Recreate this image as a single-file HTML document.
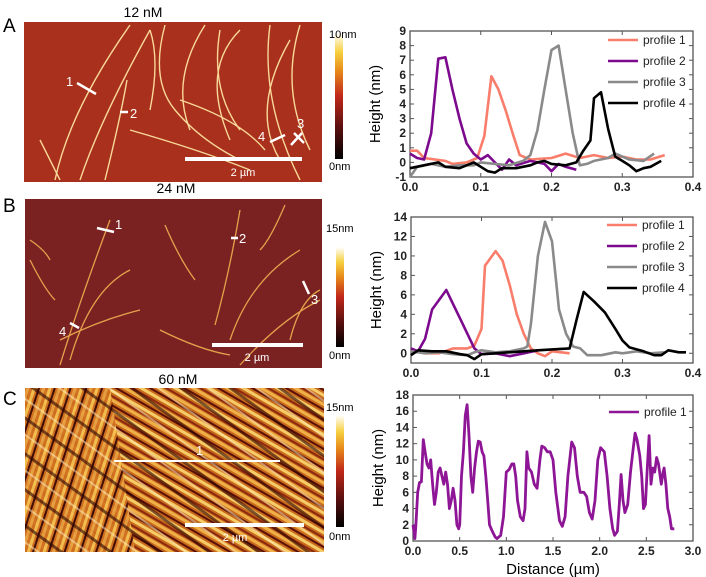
<!DOCTYPE html>
<html><head><meta charset="utf-8"><style>
html,body{margin:0;padding:0;background:#fff;}
svg{display:block;font-family:"Liberation Sans",sans-serif;}
</style></head><body>
<svg id="fig" width="706" height="577" viewBox="0 0 706 577" xmlns="http://www.w3.org/2000/svg">
<defs>
<linearGradient id="cbar" x1="0" y1="1" x2="0" y2="0">
<stop offset="0" stop-color="#000"/><stop offset="0.25" stop-color="#5a1010"/><stop offset="0.5" stop-color="#c0281a"/><stop offset="0.7" stop-color="#e88a1a"/><stop offset="0.85" stop-color="#f6d040"/><stop offset="1" stop-color="#fff"/>
</linearGradient>
<pattern id="streaks" width="17" height="17" patternUnits="userSpaceOnUse" patternTransform="rotate(30)">
<rect width="17" height="17" fill="#c86a1c"/>
<rect x="0" y="0" width="17" height="3" fill="#f0b048"/>
<rect x="0" y="5" width="17" height="2" fill="#5a1008"/>
<rect x="0" y="9" width="17" height="3" fill="#f6cc68"/>
<rect x="0" y="14" width="17" height="2" fill="#8a2810"/>
</pattern>
<pattern id="streaks3" width="29" height="29" patternUnits="userSpaceOnUse" patternTransform="rotate(36)">
<rect width="29" height="29" fill="none"/>
<rect x="0" y="3" width="29" height="3" fill="#2a0402" opacity="0.6"/>
<rect x="0" y="17" width="29" height="2" fill="#fff0c0" opacity="0.5"/>
</pattern>
<pattern id="streaks2" width="15" height="15" patternUnits="userSpaceOnUse" patternTransform="rotate(-72)">
<rect width="15" height="15" fill="#d07020"/>
<rect x="0" y="1" width="15" height="3" fill="#f4c050"/>
<rect x="0" y="6" width="15" height="2" fill="#3a0804"/>
<rect x="0" y="10" width="15" height="3" fill="#e8a040"/>
</pattern>
</defs>

<!-- Panel A image -->
<text x="143" y="17" font-size="14" text-anchor="middle">12 nM</text>
<text x="3" y="32" font-size="19">A</text>
<g>
<rect x="24" y="22" width="298" height="160" fill="#a8301c"/>
<g fill="none" stroke="#fde2a0" stroke-width="1.4" opacity="0.95">
<path d="M55 180 Q70 110 130 25"/><path d="M80 180 Q100 120 150 30"/><path d="M105 180 Q120 120 127 80"/>
<path d="M150 30 Q160 60 150 110"/><path d="M165 25 Q150 80 175 110 Q200 140 240 160"/>
<path d="M205 25 Q170 80 190 130"/><path d="M220 30 Q210 90 240 130"/><path d="M240 30 Q200 70 230 140"/>
<path d="M270 25 Q260 100 300 180"/><path d="M300 25 Q280 90 310 150"/><path d="M290 40 Q250 110 280 160"/>
<path d="M130 130 Q200 150 250 170"/><path d="M180 100 Q240 120 265 150"/><path d="M40 140 Q50 160 60 180"/>
</g>
</g>
<g stroke="#fff" stroke-width="2.5">
<line x1="77" y1="83" x2="96" y2="94"/><line x1="120" y1="112" x2="128" y2="112"/>
<line x1="270" y1="142" x2="285" y2="135"/><line x1="291" y1="145" x2="302" y2="133"/><line x1="294" y1="133" x2="304" y2="143"/>
</g>
<g font-size="13" fill="#fff">
<text x="66" y="86">1</text>
<text x="130" y="118">2</text>
<text x="297" y="128">3</text>
<text x="258" y="141">4</text>
</g>
<line x1="185" y1="159" x2="302" y2="159" stroke="#fff" stroke-width="4"/>
<text x="243" y="176" font-size="11" fill="#fff" text-anchor="middle">2 µm</text>
<rect x="335" y="33" width="8" height="126" fill="url(#cbar)"/>
<text x="329" y="38" font-size="11">10nm</text>
<text x="329" y="170" font-size="11">0nm</text>

<!-- Panel B image -->
<text x="176" y="193" font-size="14" text-anchor="middle">24 nM</text>
<text x="3" y="212" font-size="19">B</text>
<g>
<rect x="25" y="199" width="297" height="169" fill="#7a2222"/>
<g fill="none" stroke="#f0b050" stroke-width="1.3" opacity="0.9">
<path d="M60 365 Q80 300 110 220"/><path d="M70 360 Q90 290 130 270"/><path d="M60 340 Q100 320 140 310"/>
<path d="M165 225 Q180 260 195 280"/><path d="M215 325 Q230 270 240 210"/><path d="M230 340 Q250 280 300 250"/>
<path d="M240 365 Q280 320 320 300"/><path d="M290 340 Q300 300 320 290"/><path d="M30 260 Q45 290 55 300"/>
<path d="M160 330 Q200 350 230 355"/><path d="M285 205 Q270 240 260 250"/><path d="M30 240 Q45 250 50 260"/>
</g>
</g>
<g stroke="#fff" stroke-width="2.5">
<line x1="97" y1="228" x2="114" y2="232"/><line x1="231" y1="238" x2="238" y2="238"/>
<line x1="303" y1="281" x2="309" y2="294"/><line x1="70" y1="323" x2="79" y2="328"/>
</g>
<g font-size="13" fill="#fff">
<text x="115" y="229">1</text>
<text x="239" y="243">2</text>
<text x="311" y="304">3</text>
<text x="59" y="336">4</text>
</g>
<line x1="212" y1="345" x2="303" y2="345" stroke="#fff" stroke-width="4"/>
<text x="257" y="361" font-size="11" fill="#fff" text-anchor="middle">2 µm</text>
<rect x="336" y="247" width="8" height="100" fill="url(#cbar)"/>
<text x="326" y="232" font-size="11">15nm</text>
<text x="329" y="359" font-size="11">0nm</text>

<!-- Panel C image -->
<text x="178" y="384" font-size="14" text-anchor="middle">60 nM</text>
<text x="3" y="405" font-size="19">C</text>
<g>
<rect x="25" y="388" width="299" height="164" fill="url(#streaks)"/>
<path d="M25 388 L110 388 L135 552 L25 552 Z" fill="url(#streaks2)" opacity="0.95"/>
<rect x="25" y="388" width="299" height="164" fill="url(#streaks3)"/>
</g>
<line x1="114" y1="461" x2="280" y2="461" stroke="#fff" stroke-width="2"/>
<text x="196" y="455" font-size="13" fill="#fff">1</text>
<line x1="185" y1="525" x2="304" y2="525" stroke="#fff" stroke-width="4"/>
<text x="235" y="541" font-size="11" fill="#fff" text-anchor="middle">2 µm</text>
<rect x="336" y="415" width="8" height="112" fill="url(#cbar)"/>
<text x="326" y="411" font-size="11">15nm</text>
<text x="329" y="540" font-size="11">0nm</text>

<g id="charts"></g>
</svg>
<script>
// ---- Chart A data ----
const aP1x=[0,0.01,0.02,0.05,0.06,0.08,0.095,0.105,0.115,0.125,0.135,0.145,0.155,0.17,0.2,0.22,0.24,0.26,0.28,0.3,0.32,0.34,0.36];
const aP1y=[0.8,0.8,0.3,0.1,-0.1,0,0.3,1.8,5.9,5.0,3.6,2.0,0.5,0.2,0.3,0.6,0.3,0.5,0.3,0.4,0.2,0.2,0.5];
const aP2x=[0,0.01,0.02,0.03,0.04,0.05,0.06,0.07,0.08,0.09,0.1,0.11,0.12,0.13,0.14,0.15,0.17,0.19,0.2,0.21,0.22,0.235];
const aP2y=[0.6,0.3,0.2,2.0,7.1,7.2,5.0,3.0,1.3,0.6,0.2,0.5,0,-0.5,0.2,-0.2,0.1,-0.1,-0.6,-0.1,-0.3,-0.5];
const aP3x=[0,0.01,0.03,0.05,0.07,0.09,0.1,0.12,0.14,0.16,0.17,0.18,0.19,0.2,0.21,0.22,0.23,0.24,0.25,0.26,0.28,0.29,0.3,0.31,0.33,0.345];
const aP3y=[-1,-0.3,-0.1,-0.3,-0.2,-0.2,0,-0.1,-0.2,0.1,0.5,2.2,5.0,7.7,8.0,5.0,2.0,-0.2,-0.1,0.1,0.3,0.6,0.4,0.2,0.1,0.6];
const aP4x=[0,0.02,0.04,0.05,0.07,0.09,0.1,0.11,0.12,0.13,0.15,0.17,0.18,0.19,0.2,0.22,0.235,0.245,0.255,0.26,0.265,0.27,0.28,0.29,0.3,0.31,0.32,0.33,0.34,0.355];
const aP4y=[-0.4,-0.2,0,-0.3,-0.4,0,-0.3,-0.6,-0.7,-0.4,-0.4,-0.2,0,0.1,-0.1,-0.2,0,0.8,1.5,4.4,4.6,4.8,2.3,0.4,0.1,-0.2,-0.6,-0.4,-0.3,0.1];
const aXTicks=[0,0.1,0.2,0.3,0.4];
const aXTickLabels=["0.0","0.1","0.2","0.3","0.4"];
const aYTicks=[-1,0,1,2,3,4,5,6,7,8,9];
// ---- Chart B data ----
const bP1x=[0,0.02,0.04,0.06,0.08,0.09,0.1,0.105,0.12,0.13,0.14,0.15,0.16,0.17,0.18,0.19,0.2,0.225];
const bP1y=[0.3,0,0,0.5,0.5,0.8,2.5,9,10.5,9.5,7,4,2,0.5,0,-0.3,0.2,0];
const bP2x=[0,0.01,0.02,0.03,0.05,0.06,0.07,0.08,0.09,0.1,0.12,0.14,0.16,0.18];
const bP2y=[0.5,0.2,1.5,4.5,6.5,5,3.5,2,0.5,-0.1,0,-0.3,0,0.3];
const bP3x=[0,0.02,0.04,0.06,0.08,0.09,0.1,0.12,0.14,0.16,0.165,0.17,0.18,0.19,0.2,0.21,0.22,0.23,0.24,0.25,0.27,0.29,0.3,0.32,0.34,0.36];
const bP3y=[0.2,0,0.1,-0.1,-0.2,0.1,0.3,0.1,0.2,0.5,0.7,3,10,13.5,11.5,4.5,2,0.7,0.5,-0.2,-0.2,0.1,0,0.2,0,0.1];
const bP4x=[0,0.01,0.03,0.05,0.07,0.08,0.09,0.1,0.12,0.14,0.16,0.18,0.2,0.225,0.235,0.245,0.26,0.275,0.29,0.3,0.31,0.33,0.345,0.355,0.365,0.38,0.39];
const bP4y=[-0.2,0.3,0.2,0.2,-0.1,-0.2,-0.6,-0.1,0,0.1,0.2,0.3,0.4,0.5,3.5,6.3,5.3,4.2,2.5,1.3,0.6,0.2,-0.2,-0.2,0.3,0.1,0.1];
const bXTicks=[0,0.1,0.2,0.3,0.4];
const bXTickLabels=["0.0","0.1","0.2","0.3","0.4"];
const bYTicks=[0,2,4,6,8,10,12,14];
// ---- Chart C data ----
const cP1x=[0,0.02,0.03,0.05,0.07,0.09,0.11,0.13,0.15,0.17,0.19,0.21,0.23,0.25,0.27,0.29,0.31,0.33,0.35,0.37,0.39,0.41,0.43,0.45,0.47,0.49,0.5,0.52,0.54,0.56,0.58,0.6,0.62,0.64,0.66,0.68,0.7,0.72,0.74,0.76,0.78,0.8,0.82,0.85,0.88,0.9,0.92,0.94,0.97,1.0,1.03,1.06,1.08,1.1,1.12,1.15,1.18,1.2,1.22,1.24,1.27,1.3,1.33,1.36,1.38,1.41,1.44,1.47,1.5,1.53,1.57,1.6,1.63,1.66,1.7,1.73,1.76,1.79,1.83,1.86,1.89,1.92,1.95,1.98,2.01,2.05,2.08,2.11,2.14,2.16,2.19,2.21,2.23,2.25,2.27,2.3,2.33,2.36,2.38,2.4,2.43,2.45,2.47,2.49,2.51,2.53,2.55,2.57,2.59,2.61,2.63,2.66,2.68,2.69,2.71,2.73,2.75,2.77,2.8];
const cP1y=[2,0.3,1.8,6,7.2,7.3,12.5,11,9.5,9,10,7,4.5,6,8.5,9,8,7,8.5,7,4,5,6.5,5,2,1.5,2,8,11,15.5,16.8,13,8,6,9,11,12.3,12.2,11,10.5,8,5,2,1.2,0.5,0.3,0.5,0.7,3,8.5,8.8,9.5,9.5,8,5,3,2.5,4,11,9,8.5,7,6.5,10,11.7,11.5,11,11,10,6,2.5,1.8,3,8,12.2,11.5,8,6,6,5.5,3.5,2.7,5,10,11.5,11,8,4,1.5,0.7,1.2,4.5,8.2,5,3.5,4.5,8.5,11.5,13.3,12.5,10.5,8,4,4.5,9,13,7,9,8.5,10.3,9.5,7,8.5,9,7,4,3,1.5,1.5];
const cXTicks=[0,0.5,1,1.5,2,2.5,3];
const cXTickLabels=["0.0","0.5","1.0","1.5","2.0","2.5","3.0"];
const cYTicks=[0,2,4,6,8,10,12,14,16,18];

const NS="http://www.w3.org/2000/svg";
const root=document.getElementById('charts');
function mk(tag,attrs,parent){const e=document.createElementNS(NS,tag);for(const k in attrs)e.setAttribute(k,attrs[k]);(parent||root).appendChild(e);return e;}

function chart(cfg){
  const g=mk('g',{});
  
  
  const sx=v=>cfg.x0+(v-cfg.xmin)/(cfg.xmax-cfg.xmin)*(cfg.x1-cfg.x0);
  const sy=v=>cfg.y1-(v-cfg.ymin)/(cfg.ymax-cfg.ymin)*(cfg.y1-cfg.y0);
  const fr=mk('rect',{x:cfg.x0,y:cfg.y0,width:cfg.x1-cfg.x0,height:cfg.y1-cfg.y0,fill:'none',stroke:'#555','stroke-width':1.3},g);
  
  
  cfg.xTicks.forEach((t,i)=>{
    const x=sx(t);
    mk('line',{x1:x,x2:x,y1:cfg.y1,y2:cfg.y1-4,stroke:'#555'},g);
    mk('line',{x1:x,x2:x,y1:cfg.y0,y2:cfg.y0+4,stroke:'#555'},g);
    const tx=mk('text',{x:x,y:cfg.y1+14,'font-size':12,'font-weight':'bold','text-anchor':'middle',fill:'#222'},g);
    tx.textContent=cfg.xLabels[i];
    
    
  });
  cfg.yTicks.forEach(t=>{
    const y=sy(t);
    mk('line',{x1:cfg.x0,x2:cfg.x0+4,y1:y,y2:y,stroke:'#555'},g);
    mk('line',{x1:cfg.x1,x2:cfg.x1-4,y1:y,y2:y,stroke:'#555'},g);
    const ty=mk('text',{x:cfg.x0-4,y:y+4,'font-size':12,'font-weight':'bold','text-anchor':'end',fill:'#222'},g);
    ty.textContent=String(t);
    
    
  });
  const yt=mk('text',{x:0,y:0,'font-size':15,'text-anchor':'middle',transform:`translate(${cfg.x0-30},${(cfg.y0+cfg.y1)/2}) rotate(-90)`},g);
  yt.textContent='Height (nm)';
  
  
  cfg.series.forEach((s,i)=>{
    const d=s.x.map((v,j)=>(j?'L':'M')+sx(v).toFixed(1)+' '+sy(s.y[j]).toFixed(1)).join(' ');
    const p=mk('path',{d:d,fill:'none',stroke:s.c,'stroke-width':s.w||2.6,'stroke-linejoin':'round'},g);
    
    
    const ly=cfg.legY+i*cfg.legStep;
    const ll=mk('line',{x1:cfg.legX,x2:cfg.legX+30,y1:ly,y2:ly,stroke:s.c,'stroke-width':2.6},g);
    
    
    const lt=mk('text',{x:cfg.legX+35,y:ly+4,'font-size':12,fill:'#222'},g);
    lt.textContent=s.label;
    
    
  });
  if(cfg.xTitle){
    const xt=mk('text',{x:(cfg.x0+cfg.x1)/2,y:cfg.y1+33,'font-size':15,'text-anchor':'middle'},g);
    xt.textContent=cfg.xTitle;
    
    
  }
}
const C1='#f97d6b',C2='#7d0a8e',C3='#8a8a8a',C4='#000';
chart({name:'chart-a',x0:410,x1:693,y0:31,y1:177,xmin:0,xmax:0.4,ymin:-1,ymax:9,xTicks:aXTicks,xLabels:aXTickLabels,yTicks:aYTicks,legX:608,legY:40,legStep:21,
 series:[{x:aP1x,y:aP1y,c:C1,label:'profile 1'},{x:aP2x,y:aP2y,c:C2,label:'profile 2'},{x:aP3x,y:aP3y,c:C3,label:'profile 3'},{x:aP4x,y:aP4y,c:C4,label:'profile 4'}]});
chart({name:'chart-b',x0:411,x1:693,y0:217,y1:363,xmin:0,xmax:0.4,ymin:-1,ymax:14,xTicks:bXTicks,xLabels:bXTickLabels,yTicks:bYTicks,legX:607,legY:225,legStep:21,
 series:[{x:bP1x,y:bP1y,c:C1,label:'profile 1'},{x:bP2x,y:bP2y,c:C2,label:'profile 2'},{x:bP3x,y:bP3y,c:C3,label:'profile 3'},{x:bP4x,y:bP4y,c:C4,label:'profile 4'}]});
chart({name:'chart-c',x0:413,x1:693,y0:395,y1:541,xmin:0,xmax:3,ymin:0,ymax:18,xTicks:cXTicks,xLabels:cXTickLabels,yTicks:cYTicks,legX:609,legY:412,legStep:21,xTitle:'Distance (µm)',
 series:[{x:cP1x,y:cP1y,c:'#8e1696',label:'profile 1',w:2.8}]});
</script>
</body></html>
